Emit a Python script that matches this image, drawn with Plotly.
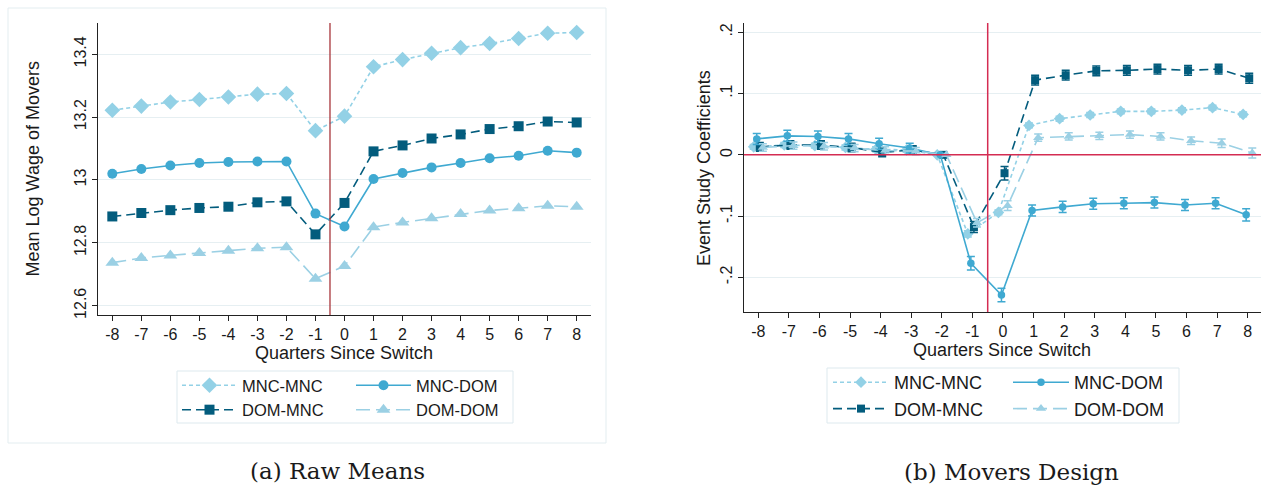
import plotly.graph_objects as go

W, H = 1261, 491

# ---------------- data ----------------
quarters = list(range(-8, 9))
x_tick_labels = [str(q) for q in quarters]

# Panel (a): raw means of log wage
raw_mnc_mnc = [13.222, 13.235, 13.248, 13.256, 13.264, 13.273, 13.275, 13.157, 13.203,
               13.360, 13.383, 13.403, 13.421, 13.434, 13.450, 13.467, 13.469]
raw_mnc_dom = [13.020, 13.035, 13.046, 13.054, 13.057, 13.059, 13.059, 12.893, 12.852,
               13.003, 13.022, 13.040, 13.054, 13.069, 13.077, 13.093, 13.087]
raw_dom_mnc = [12.884, 12.895, 12.904, 12.911, 12.915, 12.929, 12.932, 12.827, 12.927,
               13.091, 13.110, 13.132, 13.145, 13.162, 13.171, 13.186, 13.183]
raw_dom_dom = [12.737, 12.752, 12.760, 12.768, 12.775, 12.783, 12.786, 12.686, 12.726,
               12.850, 12.865, 12.878, 12.892, 12.903, 12.910, 12.918, 12.915]
left_y_ticks = [12.6, 12.8, 13.0, 13.2, 13.4]
left_y_tick_labels = ["12.6", "12.8", "13", "13.2", "13.4"]

# Panel (b): event study coefficients and CI half-widths
es_mnc_mnc = [0.013, 0.016, 0.015, 0.012, 0.009, 0.008, 0.0, -0.129, -0.094,
              0.048, 0.059, 0.065, 0.071, 0.071, 0.073, 0.077, 0.066]
es_mnc_dom = [0.026, 0.031, 0.030, 0.026, 0.018, 0.011, 0.0, -0.177, -0.229,
              -0.091, -0.085, -0.080, -0.079, -0.078, -0.082, -0.079, -0.098]
es_dom_mnc = [0.013, 0.016, 0.016, 0.012, 0.004, 0.008, 0.0, -0.118, -0.030,
              0.122, 0.130, 0.137, 0.138, 0.140, 0.138, 0.140, 0.125]
es_dom_dom = [0.012, 0.015, 0.014, 0.011, 0.007, 0.006, 0.0, -0.111, -0.083,
              0.028, 0.030, 0.031, 0.033, 0.030, 0.023, 0.019, 0.003]
ci_mnc_mnc = [0.004, 0.004, 0.004, 0.004, 0.004, 0.004, 0.0, 0.005, 0.004,
              0.004, 0.004, 0.004, 0.004, 0.004, 0.004, 0.004, 0.004]
ci_mnc_dom = [0.009, 0.009, 0.009, 0.009, 0.009, 0.008, 0.0, 0.011, 0.011,
              0.009, 0.009, 0.009, 0.009, 0.009, 0.009, 0.009, 0.010]
ci_dom_mnc = [0.007, 0.007, 0.007, 0.007, 0.007, 0.007, 0.0, 0.009, 0.011,
              0.008, 0.008, 0.008, 0.008, 0.008, 0.008, 0.008, 0.008]
ci_dom_dom = [0.006, 0.006, 0.006, 0.006, 0.006, 0.006, 0.0, 0.007, 0.008,
              0.006, 0.006, 0.006, 0.006, 0.006, 0.006, 0.007, 0.008]
right_y_ticks = [-0.2, -0.1, 0.0, 0.1, 0.2]
right_y_tick_labels = ["-.2", "-.1", "0", ".1", ".2"]

series_names = ["MNC-MNC", "DOM-MNC", "MNC-DOM", "DOM-DOM"]

# ---------------- styles ----------------
colors = {"MNC-MNC": "#93d1e6", "MNC-DOM": "#3fa9d1", "DOM-MNC": "#035c7d", "DOM-DOM": "#9bd0e4"}
dashes = {"MNC-MNC": "4px,3px", "MNC-DOM": "solid", "DOM-MNC": "9px,5px", "DOM-DOM": "14px,6px"}
symbols = {"MNC-MNC": "diamond", "MNC-DOM": "circle", "DOM-MNC": "square", "DOM-DOM": "triangle-up"}
left_sizes = {"MNC-MNC": 12, "MNC-DOM": 10, "DOM-MNC": 10, "DOM-DOM": 12}
right_sizes = {"MNC-MNC": 9, "MNC-DOM": 7.5, "DOM-MNC": 8, "DOM-DOM": 9}
dodge = {"MNC-MNC": -0.15, "MNC-DOM": -0.05, "DOM-MNC": 0.05, "DOM-DOM": 0.15}
# legend column per series: first column / second column
left_legend = {"MNC-MNC": "legend", "DOM-MNC": "legend", "MNC-DOM": "legend2", "DOM-DOM": "legend2"}
right_legend = {"MNC-MNC": "legend3", "DOM-MNC": "legend3", "MNC-DOM": "legend4", "DOM-DOM": "legend4"}

FONT = "Liberation Sans, Arial, sans-serif"
SERIF = "DejaVu Serif, Liberation Serif, serif"
TXT = "#1a1a1a"
GRID = "#e6eff2"

raw = {"MNC-MNC": raw_mnc_mnc, "MNC-DOM": raw_mnc_dom, "DOM-MNC": raw_dom_mnc, "DOM-DOM": raw_dom_dom}
es = {"MNC-MNC": es_mnc_mnc, "MNC-DOM": es_mnc_dom, "DOM-MNC": es_dom_mnc, "DOM-DOM": es_dom_dom}
ci = {"MNC-MNC": ci_mnc_mnc, "MNC-DOM": ci_mnc_dom, "DOM-MNC": ci_dom_mnc, "DOM-DOM": ci_dom_dom}

fig = go.Figure()

for name in series_names:
    fig.add_trace(go.Scatter(
        x=quarters, y=raw[name], name=name, mode="lines+markers",
        line=dict(color=colors[name], width=1.6, dash=dashes[name]),
        marker=dict(symbol=symbols[name], size=left_sizes[name], color=colors[name]),
        xaxis="x", yaxis="y", legend=left_legend[name],
    ))

for name in series_names:
    fig.add_trace(go.Scatter(
        x=[q + dodge[name] for q in quarters], y=es[name], name=name, mode="lines+markers",
        line=dict(color=colors[name], width=1.6, dash=dashes[name]),
        marker=dict(symbol=symbols[name], size=right_sizes[name], color=colors[name]),
        error_y=dict(type="data", array=ci[name], visible=True, color=colors[name],
                     thickness=1.5, width=4),
        xaxis="x2", yaxis="y2", legend=right_legend[name],
    ))

def px_x(p):
    return p / W

def px_y(p):
    return (H - p) / H

axis_common = dict(
    showline=True, linecolor="#222222", linewidth=1, ticks="outside", ticklen=5,
    tickcolor="#222222", tickfont=dict(family=FONT, size=16, color=TXT),
    zeroline=False, mirror=False,
)

def make_legend(x_px, y_px, size, item_w):
    return dict(x=px_x(x_px), y=px_y(y_px), xanchor="left", yanchor="top",
                orientation="v", borderwidth=0, bgcolor="rgba(0,0,0,0)", itemwidth=item_w,
                font=dict(family=FONT, size=size, color=TXT), tracegroupgap=0)

fig.update_layout(
    width=W, height=H, margin=dict(l=0, r=0, t=0, b=0, autoexpand=False),
    paper_bgcolor="white", plot_bgcolor="white",
    font=dict(family=FONT, color=TXT),
    xaxis=dict(domain=[px_x(98), px_x(591)], range=[-8.493, 8.493],
               tickvals=quarters, ticktext=x_tick_labels, showgrid=False,
               anchor="y", **axis_common),
    yaxis=dict(domain=[px_y(315), px_y(23)], range=[12.5705, 13.4994],
               tickvals=left_y_ticks, ticktext=left_y_tick_labels, tickangle=-90,
               showgrid=True, gridcolor=GRID, gridwidth=1, anchor="x", **axis_common),
    xaxis2=dict(domain=[px_x(744), 1.0], range=[-8.467, 8.435],
                tickvals=quarters, ticktext=x_tick_labels, showgrid=False,
                anchor="y2", **axis_common),
    yaxis2=dict(domain=[px_y(312), px_y(23)], range=[-0.2566, 0.2152],
                tickvals=right_y_ticks, ticktext=right_y_tick_labels, tickangle=-90,
                showgrid=True, gridcolor=GRID, gridwidth=1, anchor="x2", **axis_common),
    legend=make_legend(177, 368, 16.5, 55),
    legend2=make_legend(351, 368, 16.5, 55),
    legend3=make_legend(828, 364, 18, 56),
    legend4=make_legend(1008, 364, 18, 56),
    showlegend=True,
)

shapes = [
    # outer frame of panel (a)
    dict(type="rect", xref="paper", yref="paper", x0=px_x(8), x1=px_x(606),
         y0=px_y(443), y1=px_y(8), line=dict(color="#e3edf0", width=1), layer="below"),
    # legend boxes
    dict(type="rect", xref="paper", yref="paper", x0=px_x(177), x1=px_x(513),
         y0=px_y(423), y1=px_y(371), line=dict(color="#dde9ee", width=1), layer="below"),
    dict(type="rect", xref="paper", yref="paper", x0=px_x(827), x1=px_x(1179),
         y0=px_y(423), y1=px_y(368), line=dict(color="#dde9ee", width=1), layer="below"),
    # event lines
    dict(type="line", xref="x", yref="y domain", x0=-0.5, x1=-0.5, y0=0, y1=1,
         line=dict(color="#a8343a", width=1.3)),
    dict(type="line", xref="x2", yref="y2 domain", x0=-0.5, x1=-0.5, y0=0, y1=1,
         line=dict(color="#d42c52", width=1.5)),
    dict(type="line", xref="x2 domain", yref="y2", x0=0, x1=1, y0=0, y1=0,
         line=dict(color="#d42c52", width=1.5)),
]
fig.update_layout(shapes=shapes)

def note(text, x, y, size, family=FONT, angle=0):
    return dict(text=text, x=px_x(x), y=px_y(y), xref="paper", yref="paper",
                xanchor="center", yanchor="middle", textangle=angle, showarrow=False,
                font=dict(family=family, size=size, color=TXT))

annotations = [
    note("Mean Log Wage of Movers", 32, 169.5, 18, angle=-90),
    note("Quarters Since Switch", 344.5, 353, 18),
    note("Event Study Coefficients", 704, 168, 18, angle=-90),
    note("Quarters Since Switch", 1002, 350, 18),
    note("(a) Raw Means", 337, 471, 23, family=SERIF),
    note("(b) Movers Design", 1011, 472, 23, family=SERIF),
]
fig.update_layout(annotations=annotations)

fig.write_html("out.html")
